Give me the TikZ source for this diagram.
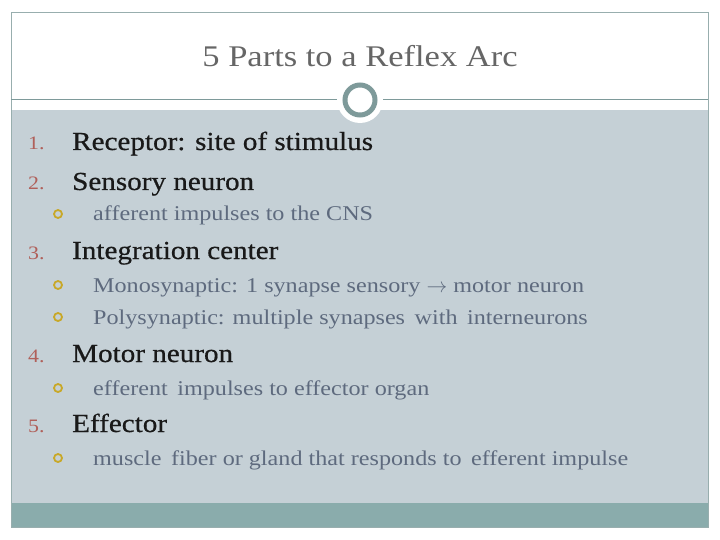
\documentclass[tikz,border=0pt]{standalone}
\usepackage{fontspec}
\setmainfont[FakeStretch=1.15]{Liberation Serif}
\newfontfamily\mainbold[FakeStretch=1.12,FakeBold=0.6]{Liberation Serif}
\begin{document}
\begin{tikzpicture}[x=1pt,y=-1pt,
 main/.style={anchor=base west,inner sep=0pt,font=\mainbold\fontsize{26}{30}\selectfont,text=black!90},
 sub/.style={anchor=base west,inner sep=0pt,font=\fontsize{21}{25}\selectfont,text=subc},
 num/.style={anchor=base west,inner sep=0pt,font=\fontsize{19}{22}\selectfont,text=numc},
 bul/.style={circle,draw=bulc,line width=1.8pt,minimum size=8pt,inner sep=0pt}]
\definecolor{bg}{HTML}{C5D0D6}
\definecolor{bar}{HTML}{8AACAC}
\definecolor{ringc}{HTML}{7E9A9A}
\definecolor{subc}{HTML}{5E6A7E}
\definecolor{numc}{HTML}{B0605A}
\definecolor{bulc}{HTML}{C8A828}
\useasboundingbox (0,0) rectangle (720,540);
\fill[white] (0,0) rectangle (720,540);
\fill[bg] (11,110) rectangle (708,503);
\fill[bar] (11,503) rectangle (708,527);
\draw[ringc!80,line width=0.8pt] (11,12) rectangle (708,527);
\draw[ringc,line width=1pt] (11,100) -- (708,100);
\fill[white] (360,100) circle (23);
\draw[ringc,line width=5pt] (360,100) circle (15);
\node[anchor=base,inner sep=0pt,font=\fontsize{30}{34}\selectfont,text=black!60] (title) at (360,67) {5 Parts to a Reflex Arc};
\node[num] (n1) at (28,150) {1.};
\node[main] (m1) at (72,150) {Receptor: site of stimulus};
\node[num] (n2) at (28,190) {2.};
\node[main] (m2) at (72,190) {Sensory neuron};
\node[bul] (b1) at (58,214) {};
\node[sub] (s1) at (93,221) {afferent impulses to the CNS};
\node[num] (n3) at (28,259) {3.};
\node[main] (m3) at (72,259) {Integration center};
\node[bul] (b2) at (58,285) {};
\node[sub] (s2) at (93,292) {Monosynaptic: 1 synapse sensory $\rightarrow$ motor neuron};
\node[bul] (b3) at (58,317) {};
\node[sub] (s3) at (93,324) {Polysynaptic: multiple synapses\, with\, interneurons};
\node[num] (n4) at (28,362) {4.};
\node[main] (m4) at (72,362) {Motor neuron};
\node[bul] (b4) at (58,388) {};
\node[sub] (s4) at (93,395) {efferent\, impulses to effector organ};
\node[num] (n5) at (28,432) {5.};
\node[main] (m5) at (72,432) {Effector};
\node[bul] (b5) at (58,458) {};
\node[sub] (s5) at (93,465) {muscle\, fiber or gland that responds to\, efferent impulse};
\end{tikzpicture}
\end{document}
